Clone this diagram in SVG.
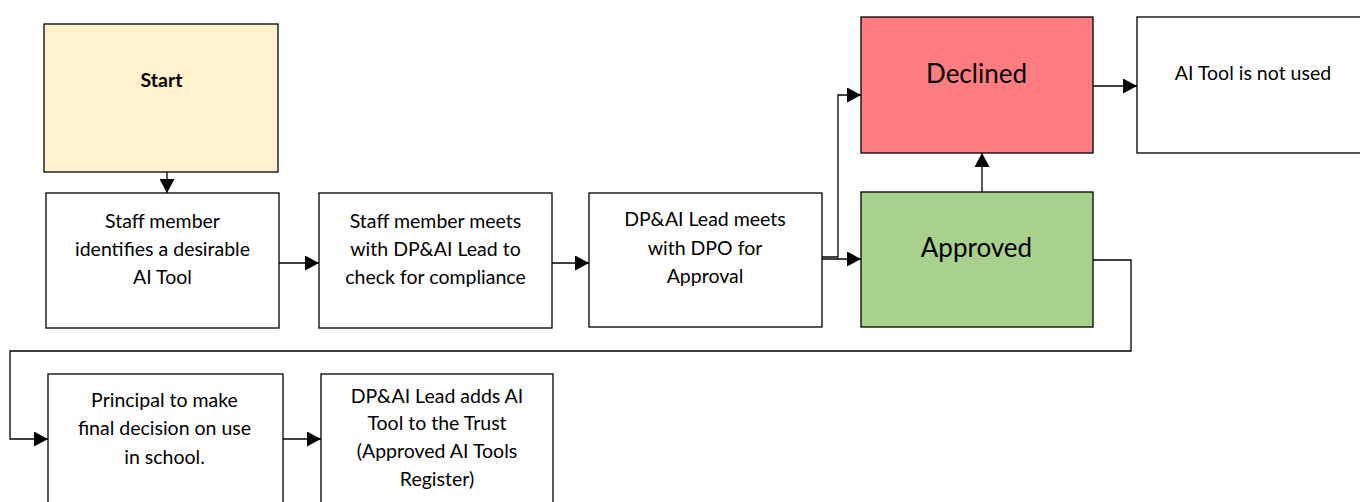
<svg xmlns="http://www.w3.org/2000/svg" width="1360" height="502" viewBox="0 0 1360 502">
<defs>
<marker id="ah" markerWidth="14" markerHeight="15" refX="14" refY="7.5" orient="auto" markerUnits="userSpaceOnUse">
<path d="M0,0 L14,7.5 L0,15 z" fill="#000"/>
</marker>
<style>
.box{stroke:#000;stroke-width:1.3;}
.t{font-family:Lato,"Open Sans",sans-serif;font-size:19.5px;fill:#000;text-anchor:middle;}
.big{font-size:26px;}
.c{fill:none;stroke:#000;stroke-width:1.3;marker-end:url(#ah);}
</style>
</defs>
<rect width="1360" height="502" fill="#fff"/>
<g id="start"><rect class="box" x="44" y="24" width="234" height="148" fill="#FFF2CC"/><text class="t" x="161.5" y="87" font-weight="bold" font-size="16.5">Start</text></g>
<g id="identify"><rect class="box" x="46" y="193" width="233" height="135" fill="#fff"/>
<text class="t" x="162.5" y="228">Staff member</text><text class="t" x="162.5" y="256">identifies a desirable</text><text class="t" x="162.5" y="284">AI Tool</text></g>
<g id="meet"><rect class="box" x="319" y="193" width="233" height="135" fill="#fff"/>
<text class="t" x="435.5" y="228">Staff member meets</text><text class="t" x="435.5" y="256">with DP&amp;AI Lead to</text><text class="t" x="435.5" y="284">check for compliance</text></g>
<g id="dpo"><rect class="box" x="589" y="193" width="233" height="134" fill="#fff"/>
<text class="t" x="705" y="226">DP&amp;AI Lead meets</text><text class="t" x="705" y="255">with DPO for</text><text class="t" x="705" y="283">Approval</text></g>
<g id="declined"><rect class="box" x="861" y="17" width="232" height="136" fill="#FF7C80"/><text class="t big" x="976.5" y="83">Declined</text></g>
<g id="notused"><rect class="box" x="1137" y="17" width="230" height="136" fill="#fff"/><text class="t" x="1253" y="80">AI Tool is not used</text></g>
<g id="approved"><rect class="box" x="861" y="192" width="232" height="135" fill="#A9D18E"/><text class="t big" x="976.5" y="257">Approved</text></g>
<g id="principal"><rect class="box" x="48" y="374" width="235" height="140" fill="#fff"/>
<text class="t" x="164.5" y="407">Principal to make</text><text class="t" x="164.5" y="435">final decision on use</text><text class="t" x="164.5" y="464">in school.</text></g>
<g id="register"><rect class="box" x="321" y="374" width="232" height="140" fill="#fff"/>
<text class="t" x="437" y="403">DP&amp;AI Lead adds AI</text><text class="t" x="437" y="430">Tool to the Trust</text><text class="t" x="437" y="458">(Approved AI Tools</text><text class="t" x="437" y="486">Register)</text></g>
<g id="connectors">
<path class="c" d="M167,172 V193"/>
<path class="c" d="M279,263 H319"/>
<path class="c" d="M552,263 H589"/>
<path class="c" d="M822,259 H861"/>
<path class="c" d="M822,257 H838 V95 H861"/>
<path class="c" d="M982,192 V153"/>
<path class="c" d="M1093,86 H1137"/>
<path class="c" d="M1093,260 H1131 V351 H10 V439 H48"/>
<path class="c" d="M283,439 H321"/>
</g>
</svg>
